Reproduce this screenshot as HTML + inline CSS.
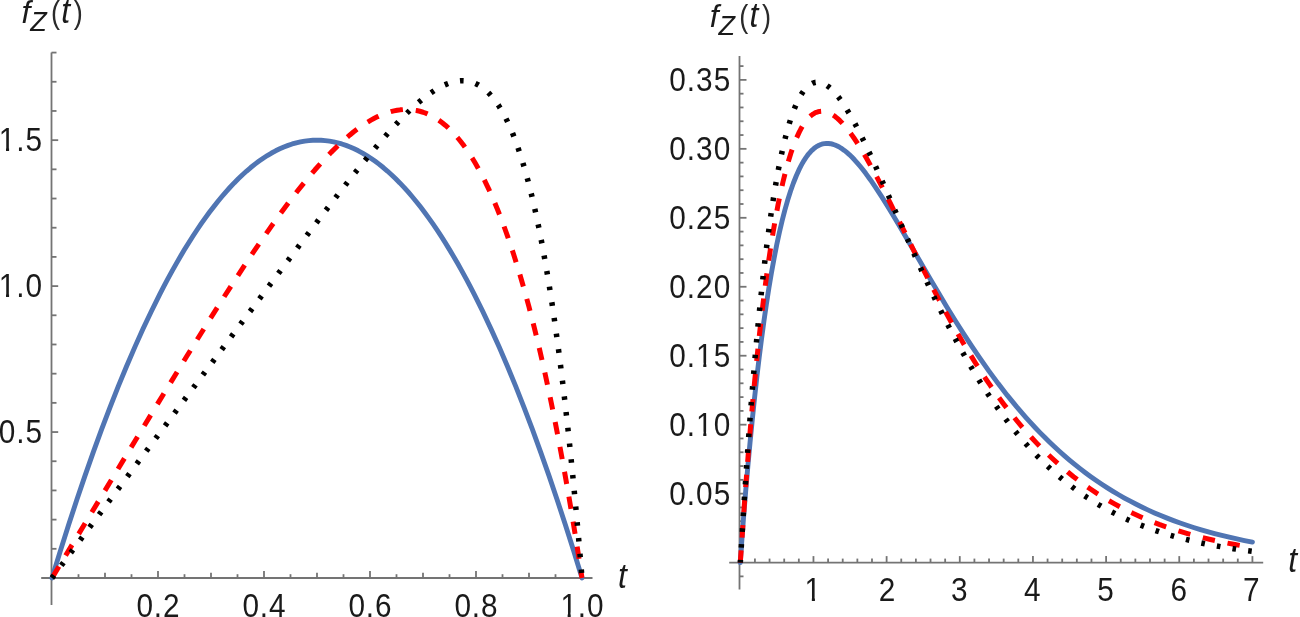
<!DOCTYPE html>
<html><head><meta charset="utf-8"><title>f_Z(t) densities</title><style>
html,body{margin:0;padding:0;background:#fff;}
body{width:1300px;height:617px;overflow:hidden;}
svg{display:block;filter:blur(0.6px);}
text{font-family:"Liberation Sans", sans-serif;fill:#1a1a1a;}
</style></head><body>
<svg width="1300" height="617" viewBox="0 0 1300 617">
<defs><clipPath id="one" clipPathUnits="userSpaceOnUse"><rect x="-12" y="-40" width="24" height="35.80"/><rect x="-1.10" y="-5" width="3.33" height="6"/></clipPath></defs>
<line x1="51.50" y1="52.50" x2="51.50" y2="605.00" stroke="#747474" stroke-width="1.8"/>
<line x1="41.20" y1="578.00" x2="592.50" y2="578.00" stroke="#747474" stroke-width="1.8"/>
<line x1="78.50" y1="578.00" x2="78.50" y2="574.20" stroke="#747474" stroke-width="1.8"/>
<line x1="105.00" y1="578.00" x2="105.00" y2="572.70" stroke="#747474" stroke-width="1.8"/>
<line x1="131.50" y1="578.00" x2="131.50" y2="574.20" stroke="#747474" stroke-width="1.8"/>
<line x1="158.00" y1="578.00" x2="158.00" y2="571.00" stroke="#747474" stroke-width="1.8"/>
<line x1="184.50" y1="578.00" x2="184.50" y2="574.20" stroke="#747474" stroke-width="1.8"/>
<line x1="211.00" y1="578.00" x2="211.00" y2="572.70" stroke="#747474" stroke-width="1.8"/>
<line x1="237.50" y1="578.00" x2="237.50" y2="574.20" stroke="#747474" stroke-width="1.8"/>
<line x1="264.00" y1="578.00" x2="264.00" y2="571.00" stroke="#747474" stroke-width="1.8"/>
<line x1="290.50" y1="578.00" x2="290.50" y2="574.20" stroke="#747474" stroke-width="1.8"/>
<line x1="317.00" y1="578.00" x2="317.00" y2="572.70" stroke="#747474" stroke-width="1.8"/>
<line x1="343.50" y1="578.00" x2="343.50" y2="574.20" stroke="#747474" stroke-width="1.8"/>
<line x1="370.00" y1="578.00" x2="370.00" y2="571.00" stroke="#747474" stroke-width="1.8"/>
<line x1="396.50" y1="578.00" x2="396.50" y2="574.20" stroke="#747474" stroke-width="1.8"/>
<line x1="423.00" y1="578.00" x2="423.00" y2="572.70" stroke="#747474" stroke-width="1.8"/>
<line x1="449.50" y1="578.00" x2="449.50" y2="574.20" stroke="#747474" stroke-width="1.8"/>
<line x1="476.00" y1="578.00" x2="476.00" y2="571.00" stroke="#747474" stroke-width="1.8"/>
<line x1="502.50" y1="578.00" x2="502.50" y2="574.20" stroke="#747474" stroke-width="1.8"/>
<line x1="529.00" y1="578.00" x2="529.00" y2="572.70" stroke="#747474" stroke-width="1.8"/>
<line x1="555.50" y1="578.00" x2="555.50" y2="574.20" stroke="#747474" stroke-width="1.8"/>
<line x1="582.00" y1="578.00" x2="582.00" y2="571.00" stroke="#747474" stroke-width="1.8"/>
<line x1="51.50" y1="548.81" x2="56.50" y2="548.81" stroke="#747474" stroke-width="1.8"/>
<line x1="51.50" y1="519.62" x2="56.50" y2="519.62" stroke="#747474" stroke-width="1.8"/>
<line x1="51.50" y1="490.43" x2="56.50" y2="490.43" stroke="#747474" stroke-width="1.8"/>
<line x1="51.50" y1="461.24" x2="56.50" y2="461.24" stroke="#747474" stroke-width="1.8"/>
<line x1="51.50" y1="432.05" x2="58.20" y2="432.05" stroke="#747474" stroke-width="1.8"/>
<line x1="51.50" y1="402.86" x2="56.50" y2="402.86" stroke="#747474" stroke-width="1.8"/>
<line x1="51.50" y1="373.67" x2="56.50" y2="373.67" stroke="#747474" stroke-width="1.8"/>
<line x1="51.50" y1="344.48" x2="56.50" y2="344.48" stroke="#747474" stroke-width="1.8"/>
<line x1="51.50" y1="315.29" x2="56.50" y2="315.29" stroke="#747474" stroke-width="1.8"/>
<line x1="51.50" y1="286.10" x2="58.20" y2="286.10" stroke="#747474" stroke-width="1.8"/>
<line x1="51.50" y1="256.91" x2="56.50" y2="256.91" stroke="#747474" stroke-width="1.8"/>
<line x1="51.50" y1="227.72" x2="56.50" y2="227.72" stroke="#747474" stroke-width="1.8"/>
<line x1="51.50" y1="198.53" x2="56.50" y2="198.53" stroke="#747474" stroke-width="1.8"/>
<line x1="51.50" y1="169.34" x2="56.50" y2="169.34" stroke="#747474" stroke-width="1.8"/>
<line x1="51.50" y1="140.15" x2="58.20" y2="140.15" stroke="#747474" stroke-width="1.8"/>
<line x1="51.50" y1="110.96" x2="56.50" y2="110.96" stroke="#747474" stroke-width="1.8"/>
<line x1="51.50" y1="81.77" x2="56.50" y2="81.77" stroke="#747474" stroke-width="1.8"/>
<line x1="51.50" y1="52.58" x2="56.50" y2="52.58" stroke="#747474" stroke-width="1.8"/>
<path d="M52.00,578.00 60.35,550.85 68.56,524.98 76.91,499.55 85.12,475.38 93.47,451.68 101.69,429.20 109.90,407.56 118.25,386.44 126.47,366.50 134.81,347.10 143.16,328.57 151.38,311.19 159.59,294.64 163.83,286.43 167.94,278.69 172.05,271.16 176.15,263.84 180.39,256.50 184.50,249.61 188.61,242.93 192.85,236.25 196.96,230.00 201.06,223.96 205.17,218.12 209.41,212.32 213.52,206.92 217.62,201.72 221.73,196.74 225.97,191.81 230.08,187.26 234.19,182.91 238.30,178.77 242.53,174.72 246.64,171.01 250.75,167.52 254.99,164.12 259.10,161.05 263.21,158.19 267.31,155.54 271.55,153.03 275.66,150.81 279.77,148.79 283.88,146.99 288.12,145.35 292.22,143.98 296.33,142.81 300.44,141.86 304.68,141.10 308.78,140.57 312.89,140.26 317.00,140.15 321.11,140.26 325.21,140.57 329.45,141.12 333.56,141.86 337.67,142.81 341.78,143.98 346.02,145.40 350.12,146.99 354.23,148.79 358.34,150.81 362.58,153.10 366.69,155.54 370.80,158.19 374.90,161.05 379.01,164.12 383.25,167.52 387.36,171.01 391.46,174.72 395.70,178.77 399.81,182.91 404.05,187.40 408.16,191.96 412.27,196.74 416.38,201.72 420.62,207.09 424.72,212.50 428.83,218.12 432.94,223.96 437.18,230.20 441.29,236.46 445.39,242.93 449.50,249.61 453.74,256.73 457.85,263.84 461.95,271.16 466.06,278.69 470.30,286.68 474.41,294.64 482.62,311.19 490.97,328.86 499.19,347.10 507.54,366.50 515.75,386.44 524.10,407.56 532.31,429.20 540.66,452.05 548.88,475.38 557.22,499.95 565.44,524.98 573.65,550.85 582.00,578.00" fill="none" stroke="#5075b3" stroke-width="4.9" stroke-linejoin="round" stroke-linecap="round"/>
<path d="M52.00,578.00 122.89,460.91 158.00,403.14 186.75,356.28 210.47,318.26 222.26,299.68 233.26,282.61 243.73,266.64 253.53,251.98 262.94,238.22 271.95,225.36 280.69,213.24 289.04,202.01 298.05,190.34 306.66,179.66 315.01,169.79 323.10,160.74 331.04,152.37 338.73,144.83 342.44,141.39 346.15,138.10 349.86,134.95 353.44,132.06 357.01,129.32 360.59,126.72 364.04,124.38 367.48,122.18 370.93,120.14 374.37,118.26 377.69,116.61 381.00,115.12 384.31,113.79 387.49,112.68 390.80,111.69 393.98,110.90 397.16,110.29 400.21,109.86 403.39,109.59 406.44,109.51 409.88,109.62 413.19,109.94 416.51,110.48 419.82,111.24 423.13,112.23 426.31,113.40 429.62,114.86 432.81,116.49 435.99,118.36 439.03,120.37 442.21,122.71 445.26,125.19 448.31,127.90 451.36,130.86 454.40,134.07 457.45,137.53 460.50,141.24 463.41,145.05 466.33,149.10 469.24,153.41 472.16,157.97 475.07,162.80 477.99,167.89 480.77,173.02 483.55,178.39 486.33,184.03 489.12,189.94 491.90,196.11 494.68,202.56 497.33,208.97 500.12,215.97 502.77,222.91 508.06,237.61 513.37,253.43 518.66,270.40 523.83,288.09 529.00,306.96 534.03,326.52 539.07,347.26 543.97,368.64 548.88,391.21 553.78,415.02 558.55,439.41 563.32,465.03 568.09,491.93 572.73,519.34 577.36,548.02 582.00,578.00" fill="none" stroke="#ff0000" stroke-width="5.0" stroke-linejoin="round" stroke-linecap="butt" stroke-dasharray="12.4 12.89" stroke-dashoffset="-1.0"/>
<path d="M52.00,578.00 242.53,321.51 298.05,247.07 320.98,216.69 339.66,192.31 355.69,171.87 369.74,154.52 377.82,144.86 385.50,135.95 392.66,127.96 399.41,120.73 405.91,114.11 412.00,108.25 417.83,103.00 423.53,98.26 428.96,94.14 434.26,90.55 439.30,87.57 441.81,86.25 444.20,85.12 446.59,84.10 448.97,83.21 451.36,82.45 453.61,81.85 455.86,81.38 457.98,81.06 460.23,80.85 462.35,80.78 465.00,80.89 467.65,81.21 470.30,81.76 472.82,82.51 475.34,83.49 477.86,84.71 480.24,86.10 482.62,87.72 485.01,89.59 487.26,91.59 489.65,93.97 491.90,96.48 494.15,99.25 496.27,102.10 498.53,105.41 500.65,108.79 502.77,112.44 504.89,116.38 507.00,120.61 508.99,124.84 510.98,129.36 512.97,134.15 514.96,139.25 516.94,144.65 520.79,156.00 524.50,168.16 528.20,181.57 531.78,195.77 535.36,211.29 538.81,227.55 542.25,245.20 545.69,264.29 549.01,284.10 552.19,304.53 555.37,326.42 558.55,349.83 561.60,373.78 564.64,399.28 567.69,426.41 570.61,453.95 573.52,483.13 576.44,514.01 579.22,545.16 582.00,578.00" fill="none" stroke="#000000" stroke-width="5.5" stroke-linejoin="round" stroke-linecap="butt" stroke-dasharray="3.6 12.22" stroke-dashoffset="0.2"/>
<line x1="739.50" y1="56.10" x2="739.50" y2="589.60" stroke="#747474" stroke-width="1.8"/>
<line x1="729.20" y1="562.60" x2="1263.20" y2="562.60" stroke="#747474" stroke-width="1.8"/>
<line x1="754.93" y1="562.60" x2="754.93" y2="558.60" stroke="#747474" stroke-width="1.8"/>
<line x1="769.56" y1="562.60" x2="769.56" y2="558.60" stroke="#747474" stroke-width="1.8"/>
<line x1="784.20" y1="562.60" x2="784.20" y2="558.60" stroke="#747474" stroke-width="1.8"/>
<line x1="798.83" y1="562.60" x2="798.83" y2="558.60" stroke="#747474" stroke-width="1.8"/>
<line x1="813.46" y1="562.60" x2="813.46" y2="556.10" stroke="#747474" stroke-width="1.8"/>
<line x1="828.09" y1="562.60" x2="828.09" y2="558.60" stroke="#747474" stroke-width="1.8"/>
<line x1="842.72" y1="562.60" x2="842.72" y2="558.60" stroke="#747474" stroke-width="1.8"/>
<line x1="857.36" y1="562.60" x2="857.36" y2="558.60" stroke="#747474" stroke-width="1.8"/>
<line x1="871.99" y1="562.60" x2="871.99" y2="558.60" stroke="#747474" stroke-width="1.8"/>
<line x1="886.62" y1="562.60" x2="886.62" y2="556.10" stroke="#747474" stroke-width="1.8"/>
<line x1="901.25" y1="562.60" x2="901.25" y2="558.60" stroke="#747474" stroke-width="1.8"/>
<line x1="915.88" y1="562.60" x2="915.88" y2="558.60" stroke="#747474" stroke-width="1.8"/>
<line x1="930.52" y1="562.60" x2="930.52" y2="558.60" stroke="#747474" stroke-width="1.8"/>
<line x1="945.15" y1="562.60" x2="945.15" y2="558.60" stroke="#747474" stroke-width="1.8"/>
<line x1="959.78" y1="562.60" x2="959.78" y2="556.10" stroke="#747474" stroke-width="1.8"/>
<line x1="974.41" y1="562.60" x2="974.41" y2="558.60" stroke="#747474" stroke-width="1.8"/>
<line x1="989.04" y1="562.60" x2="989.04" y2="558.60" stroke="#747474" stroke-width="1.8"/>
<line x1="1003.68" y1="562.60" x2="1003.68" y2="558.60" stroke="#747474" stroke-width="1.8"/>
<line x1="1018.31" y1="562.60" x2="1018.31" y2="558.60" stroke="#747474" stroke-width="1.8"/>
<line x1="1032.94" y1="562.60" x2="1032.94" y2="556.10" stroke="#747474" stroke-width="1.8"/>
<line x1="1047.57" y1="562.60" x2="1047.57" y2="558.60" stroke="#747474" stroke-width="1.8"/>
<line x1="1062.20" y1="562.60" x2="1062.20" y2="558.60" stroke="#747474" stroke-width="1.8"/>
<line x1="1076.84" y1="562.60" x2="1076.84" y2="558.60" stroke="#747474" stroke-width="1.8"/>
<line x1="1091.47" y1="562.60" x2="1091.47" y2="558.60" stroke="#747474" stroke-width="1.8"/>
<line x1="1106.10" y1="562.60" x2="1106.10" y2="556.10" stroke="#747474" stroke-width="1.8"/>
<line x1="1120.73" y1="562.60" x2="1120.73" y2="558.60" stroke="#747474" stroke-width="1.8"/>
<line x1="1135.36" y1="562.60" x2="1135.36" y2="558.60" stroke="#747474" stroke-width="1.8"/>
<line x1="1150.00" y1="562.60" x2="1150.00" y2="558.60" stroke="#747474" stroke-width="1.8"/>
<line x1="1164.63" y1="562.60" x2="1164.63" y2="558.60" stroke="#747474" stroke-width="1.8"/>
<line x1="1179.26" y1="562.60" x2="1179.26" y2="556.10" stroke="#747474" stroke-width="1.8"/>
<line x1="1193.89" y1="562.60" x2="1193.89" y2="558.60" stroke="#747474" stroke-width="1.8"/>
<line x1="1208.52" y1="562.60" x2="1208.52" y2="558.60" stroke="#747474" stroke-width="1.8"/>
<line x1="1223.16" y1="562.60" x2="1223.16" y2="558.60" stroke="#747474" stroke-width="1.8"/>
<line x1="1237.79" y1="562.60" x2="1237.79" y2="558.60" stroke="#747474" stroke-width="1.8"/>
<line x1="1252.42" y1="562.60" x2="1252.42" y2="556.10" stroke="#747474" stroke-width="1.8"/>
<line x1="739.50" y1="576.39" x2="743.50" y2="576.39" stroke="#747474" stroke-width="1.8"/>
<line x1="739.50" y1="548.81" x2="743.50" y2="548.81" stroke="#747474" stroke-width="1.8"/>
<line x1="739.50" y1="535.02" x2="743.50" y2="535.02" stroke="#747474" stroke-width="1.8"/>
<line x1="739.50" y1="521.22" x2="743.50" y2="521.22" stroke="#747474" stroke-width="1.8"/>
<line x1="739.50" y1="507.43" x2="743.50" y2="507.43" stroke="#747474" stroke-width="1.8"/>
<line x1="739.50" y1="493.64" x2="746.50" y2="493.64" stroke="#747474" stroke-width="1.8"/>
<line x1="739.50" y1="479.85" x2="743.50" y2="479.85" stroke="#747474" stroke-width="1.8"/>
<line x1="739.50" y1="466.06" x2="743.50" y2="466.06" stroke="#747474" stroke-width="1.8"/>
<line x1="739.50" y1="452.26" x2="743.50" y2="452.26" stroke="#747474" stroke-width="1.8"/>
<line x1="739.50" y1="438.47" x2="743.50" y2="438.47" stroke="#747474" stroke-width="1.8"/>
<line x1="739.50" y1="424.68" x2="746.50" y2="424.68" stroke="#747474" stroke-width="1.8"/>
<line x1="739.50" y1="410.89" x2="743.50" y2="410.89" stroke="#747474" stroke-width="1.8"/>
<line x1="739.50" y1="397.10" x2="743.50" y2="397.10" stroke="#747474" stroke-width="1.8"/>
<line x1="739.50" y1="383.30" x2="743.50" y2="383.30" stroke="#747474" stroke-width="1.8"/>
<line x1="739.50" y1="369.51" x2="743.50" y2="369.51" stroke="#747474" stroke-width="1.8"/>
<line x1="739.50" y1="355.72" x2="746.50" y2="355.72" stroke="#747474" stroke-width="1.8"/>
<line x1="739.50" y1="341.93" x2="743.50" y2="341.93" stroke="#747474" stroke-width="1.8"/>
<line x1="739.50" y1="328.14" x2="743.50" y2="328.14" stroke="#747474" stroke-width="1.8"/>
<line x1="739.50" y1="314.34" x2="743.50" y2="314.34" stroke="#747474" stroke-width="1.8"/>
<line x1="739.50" y1="300.55" x2="743.50" y2="300.55" stroke="#747474" stroke-width="1.8"/>
<line x1="739.50" y1="286.76" x2="746.50" y2="286.76" stroke="#747474" stroke-width="1.8"/>
<line x1="739.50" y1="272.97" x2="743.50" y2="272.97" stroke="#747474" stroke-width="1.8"/>
<line x1="739.50" y1="259.18" x2="743.50" y2="259.18" stroke="#747474" stroke-width="1.8"/>
<line x1="739.50" y1="245.38" x2="743.50" y2="245.38" stroke="#747474" stroke-width="1.8"/>
<line x1="739.50" y1="231.59" x2="743.50" y2="231.59" stroke="#747474" stroke-width="1.8"/>
<line x1="739.50" y1="217.80" x2="746.50" y2="217.80" stroke="#747474" stroke-width="1.8"/>
<line x1="739.50" y1="204.01" x2="743.50" y2="204.01" stroke="#747474" stroke-width="1.8"/>
<line x1="739.50" y1="190.22" x2="743.50" y2="190.22" stroke="#747474" stroke-width="1.8"/>
<line x1="739.50" y1="176.42" x2="743.50" y2="176.42" stroke="#747474" stroke-width="1.8"/>
<line x1="739.50" y1="162.63" x2="743.50" y2="162.63" stroke="#747474" stroke-width="1.8"/>
<line x1="739.50" y1="148.84" x2="746.50" y2="148.84" stroke="#747474" stroke-width="1.8"/>
<line x1="739.50" y1="135.05" x2="743.50" y2="135.05" stroke="#747474" stroke-width="1.8"/>
<line x1="739.50" y1="121.26" x2="743.50" y2="121.26" stroke="#747474" stroke-width="1.8"/>
<line x1="739.50" y1="107.46" x2="743.50" y2="107.46" stroke="#747474" stroke-width="1.8"/>
<line x1="739.50" y1="93.67" x2="743.50" y2="93.67" stroke="#747474" stroke-width="1.8"/>
<line x1="739.50" y1="79.88" x2="746.50" y2="79.88" stroke="#747474" stroke-width="1.8"/>
<line x1="739.50" y1="66.09" x2="743.50" y2="66.09" stroke="#747474" stroke-width="1.8"/>
<path d="M740.30,562.60 741.69,542.31 743.59,517.12 745.64,491.82 747.84,466.43 750.03,442.59 752.23,420.18 754.49,398.40 756.83,377.31 759.18,357.53 761.52,339.00 763.93,321.13 766.42,303.95 768.91,287.98 771.47,272.71 774.10,258.20 776.73,244.83 779.37,232.53 782.07,220.96 784.85,210.14 787.63,200.34 790.49,191.28 793.41,182.99 796.41,175.47 799.41,168.89 800.95,165.86 802.56,162.93 804.10,160.35 805.71,157.88 807.31,155.63 808.92,153.59 810.53,151.76 812.22,150.06 813.90,148.57 815.58,147.29 817.34,146.16 819.09,145.23 820.85,144.50 822.68,143.95 824.51,143.59 826.34,143.42 828.46,143.46 830.58,143.73 832.77,144.24 835.04,145.01 837.31,146.00 839.58,147.21 841.92,148.68 844.33,150.40 846.82,152.40 849.31,154.60 851.87,157.06 854.50,159.79 857.21,162.79 859.92,165.98 862.77,169.52 865.70,173.33 870.52,179.97 875.57,187.32 880.99,195.60 886.84,204.92 892.77,214.66 899.35,225.74 930.95,280.21 939.15,294.11 946.68,306.66 955.32,320.70 963.66,333.87 971.71,346.18 979.68,357.96 988.97,371.13 998.19,383.60 1007.33,395.38 1016.55,406.65 1025.77,417.31 1030.38,422.42 1035.06,427.46 1039.74,432.35 1044.43,437.09 1049.18,441.76 1053.94,446.28 1059.06,450.99 1064.25,455.60 1069.45,460.04 1074.71,464.39 1080.06,468.62 1085.40,472.70 1090.81,476.67 1096.22,480.49 1101.78,484.25 1107.34,487.86 1112.98,491.36 1118.68,494.75 1124.46,498.04 1130.32,501.22 1136.24,504.29 1142.24,507.26 1148.31,510.12 1154.53,512.91 1160.75,515.56 1167.12,518.14 1173.55,520.61 1180.14,523.00 1186.80,525.29 1193.53,527.48 1200.40,529.59 1207.43,531.62 1214.60,533.58 1221.84,535.43 1229.23,537.20 1236.84,538.91 1244.52,540.53 1252.42,542.08" fill="none" stroke="#5075b3" stroke-width="4.9" stroke-linejoin="round" stroke-linecap="round"/>
<path d="M740.30,562.60 744.32,504.94 746.37,477.70 748.42,451.84 750.47,427.32 752.59,403.29 754.71,380.59 756.91,358.45 759.10,337.62 761.37,317.42 763.64,298.50 765.91,280.81 768.25,263.78 770.59,247.94 773.00,232.80 775.42,218.82 777.90,205.56 780.39,193.41 782.95,182.01 785.59,171.39 788.22,161.82 790.93,153.04 793.71,145.06 796.49,138.07 799.34,131.87 800.80,129.06 802.27,126.48 803.73,124.13 805.27,121.90 806.80,119.91 808.34,118.14 809.88,116.59 811.48,115.20 813.09,114.03 814.70,113.07 816.31,112.32 818.00,111.76 819.68,111.40 821.43,111.24 823.34,111.31 825.31,111.62 827.29,112.18 829.26,112.97 831.31,114.02 833.36,115.29 835.48,116.82 837.68,118.64 839.87,120.67 842.14,122.98 844.41,125.50 846.75,128.29 849.16,131.37 851.58,134.64 854.14,138.30 856.70,142.13 861.82,150.28 867.23,159.49 873.09,170.02 879.52,182.12 884.94,192.61 891.16,204.92 913.03,249.00 922.03,266.95 930.88,284.26 939.08,299.88 946.25,313.17 953.27,325.80 960.15,337.79 966.88,349.13 976.09,364.02 980.70,371.18 985.24,378.03 989.78,384.70 994.38,391.29 998.99,397.69 1003.60,403.90 1008.21,409.92 1012.82,415.75 1017.50,421.49 1022.19,427.04 1026.94,432.49 1031.70,437.76 1036.45,442.84 1041.28,447.82 1046.55,453.04 1051.82,458.06 1057.16,462.94 1062.57,467.69 1068.06,472.29 1073.54,476.69 1079.10,480.95 1084.74,485.08 1090.44,489.06 1096.22,492.91 1102.08,496.62 1108.08,500.23 1114.07,503.65 1120.22,506.99 1126.44,510.18 1132.80,513.27 1139.24,516.22 1145.75,519.04 1152.41,521.75 1159.14,524.34 1166.02,526.81 1173.04,529.19 1180.21,531.46 1187.53,533.62 1194.99,535.68 1202.60,537.64 1210.43,539.51 1218.40,541.28 1226.59,542.96 1235.01,544.55 1243.57,546.04 1252.42,547.46" fill="none" stroke="#ff0000" stroke-width="5.0" stroke-linejoin="round" stroke-linecap="butt" stroke-dasharray="12.4 12.896" stroke-dashoffset="0.2"/>
<path d="M740.30,562.60 744.25,499.97 748.13,444.03 750.10,417.65 752.08,392.65 754.13,368.14 756.18,345.01 758.22,323.22 760.35,301.99 762.47,282.09 764.66,262.83 766.86,244.86 769.13,227.60 771.39,211.61 773.73,196.36 776.08,182.33 778.49,169.09 780.90,157.02 783.39,145.76 785.88,135.62 788.44,126.30 791.07,117.81 793.71,110.40 796.41,103.81 797.80,100.82 799.19,98.09 800.58,95.60 802.05,93.23 803.44,91.22 804.90,89.35 806.36,87.71 807.83,86.30 809.36,85.06 810.90,84.05 812.44,83.27 813.97,82.71 815.58,82.34 817.19,82.20 818.95,82.28 820.78,82.62 822.60,83.21 824.43,84.04 826.34,85.14 828.24,86.47 830.14,88.03 832.12,89.86 834.16,91.98 836.21,94.32 838.33,96.95 840.46,99.79 842.65,102.92 844.92,106.36 849.60,114.04 854.50,122.81 859.70,132.78 865.26,144.09 871.40,157.17 876.60,168.60 882.52,181.91 903.59,230.14 912.30,249.85 920.93,268.99 928.98,286.35 936.15,301.35 943.17,315.58 950.05,329.03 956.85,341.85 961.46,350.25 966.00,358.30 970.61,366.24 975.14,373.83 979.68,381.20 984.29,388.45 988.82,395.36 993.43,402.16 998.04,408.73 1002.72,415.18 1007.41,421.40 1012.09,427.41 1016.84,433.28 1021.60,438.94 1026.43,444.46 1031.26,449.77 1036.52,455.32 1041.87,460.71 1047.28,465.92 1052.77,470.97 1058.33,475.83 1063.89,480.47 1069.59,484.99 1075.37,489.34 1081.23,493.52 1087.15,497.52 1093.15,501.36 1099.30,505.07 1105.51,508.62 1111.81,511.99 1118.24,515.25 1124.83,518.37 1131.49,521.33 1138.29,524.16 1145.17,526.84 1152.26,529.42 1159.51,531.87 1166.90,534.18 1174.50,536.40 1182.26,538.49 1190.23,540.47 1198.35,542.32 1206.69,544.07 1215.33,545.73 1224.18,547.28 1233.33,548.74 1242.69,550.09 1252.42,551.36" fill="none" stroke="#000000" stroke-width="5.5" stroke-linejoin="round" stroke-linecap="butt" stroke-dasharray="3.6 12.224" stroke-dashoffset="0.84"/>
<g transform="translate(0,443.25) scale(1,1.045) translate(0,-443.25)">
<text transform="translate(7.01,443.25) scale(0.93,1)" text-anchor="middle" font-size="32">0</text>
<text transform="translate(20.36,443.25) scale(0.93,1)" text-anchor="middle" font-size="32">.</text>
<text transform="translate(33.70,443.25) scale(0.93,1)" text-anchor="middle" font-size="32">5</text>
</g>
<g transform="translate(0,297.30) scale(1,1.045) translate(0,-297.30)">
<text transform="translate(7.01,297.30) scale(0.93,1)" text-anchor="middle" font-size="32" clip-path="url(#one)">1</text>
<text transform="translate(20.36,297.30) scale(0.93,1)" text-anchor="middle" font-size="32">.</text>
<text transform="translate(33.70,297.30) scale(0.93,1)" text-anchor="middle" font-size="32">0</text>
</g>
<g transform="translate(0,151.35) scale(1,1.045) translate(0,-151.35)">
<text transform="translate(7.01,151.35) scale(0.93,1)" text-anchor="middle" font-size="32" clip-path="url(#one)">1</text>
<text transform="translate(20.36,151.35) scale(0.93,1)" text-anchor="middle" font-size="32">.</text>
<text transform="translate(33.70,151.35) scale(0.93,1)" text-anchor="middle" font-size="32">5</text>
</g>
<g transform="translate(0,616.80) scale(1,1.045) translate(0,-616.80)">
<text transform="translate(144.66,616.80) scale(0.93,1)" text-anchor="middle" font-size="32">0</text>
<text transform="translate(158.00,616.80) scale(0.93,1)" text-anchor="middle" font-size="32">.</text>
<text transform="translate(171.34,616.80) scale(0.93,1)" text-anchor="middle" font-size="32">2</text>
</g>
<g transform="translate(0,616.80) scale(1,1.045) translate(0,-616.80)">
<text transform="translate(250.66,616.80) scale(0.93,1)" text-anchor="middle" font-size="32">0</text>
<text transform="translate(264.00,616.80) scale(0.93,1)" text-anchor="middle" font-size="32">.</text>
<text transform="translate(277.34,616.80) scale(0.93,1)" text-anchor="middle" font-size="32">4</text>
</g>
<g transform="translate(0,616.80) scale(1,1.045) translate(0,-616.80)">
<text transform="translate(356.66,616.80) scale(0.93,1)" text-anchor="middle" font-size="32">0</text>
<text transform="translate(370.00,616.80) scale(0.93,1)" text-anchor="middle" font-size="32">.</text>
<text transform="translate(383.34,616.80) scale(0.93,1)" text-anchor="middle" font-size="32">6</text>
</g>
<g transform="translate(0,616.80) scale(1,1.045) translate(0,-616.80)">
<text transform="translate(462.66,616.80) scale(0.93,1)" text-anchor="middle" font-size="32">0</text>
<text transform="translate(476.00,616.80) scale(0.93,1)" text-anchor="middle" font-size="32">.</text>
<text transform="translate(489.34,616.80) scale(0.93,1)" text-anchor="middle" font-size="32">8</text>
</g>
<g transform="translate(0,616.80) scale(1,1.045) translate(0,-616.80)">
<text transform="translate(568.66,616.80) scale(0.93,1)" text-anchor="middle" font-size="32" clip-path="url(#one)">1</text>
<text transform="translate(582.00,616.80) scale(0.93,1)" text-anchor="middle" font-size="32">.</text>
<text transform="translate(595.34,616.80) scale(0.93,1)" text-anchor="middle" font-size="32">0</text>
</g>
<g transform="translate(0,505.09) scale(1,1.045) translate(0,-505.09)">
<text transform="translate(677.62,505.09) scale(0.93,1)" text-anchor="middle" font-size="32">0</text>
<text transform="translate(690.96,505.09) scale(0.93,1)" text-anchor="middle" font-size="32">.</text>
<text transform="translate(704.30,505.09) scale(0.93,1)" text-anchor="middle" font-size="32">0</text>
<text transform="translate(722.10,505.09) scale(0.93,1)" text-anchor="middle" font-size="32">5</text>
</g>
<g transform="translate(0,436.13) scale(1,1.045) translate(0,-436.13)">
<text transform="translate(677.62,436.13) scale(0.93,1)" text-anchor="middle" font-size="32">0</text>
<text transform="translate(690.96,436.13) scale(0.93,1)" text-anchor="middle" font-size="32">.</text>
<text transform="translate(704.30,436.13) scale(0.93,1)" text-anchor="middle" font-size="32" clip-path="url(#one)">1</text>
<text transform="translate(722.10,436.13) scale(0.93,1)" text-anchor="middle" font-size="32">0</text>
</g>
<g transform="translate(0,367.17) scale(1,1.045) translate(0,-367.17)">
<text transform="translate(677.62,367.17) scale(0.93,1)" text-anchor="middle" font-size="32">0</text>
<text transform="translate(690.96,367.17) scale(0.93,1)" text-anchor="middle" font-size="32">.</text>
<text transform="translate(704.30,367.17) scale(0.93,1)" text-anchor="middle" font-size="32" clip-path="url(#one)">1</text>
<text transform="translate(722.10,367.17) scale(0.93,1)" text-anchor="middle" font-size="32">5</text>
</g>
<g transform="translate(0,298.21) scale(1,1.045) translate(0,-298.21)">
<text transform="translate(677.62,298.21) scale(0.93,1)" text-anchor="middle" font-size="32">0</text>
<text transform="translate(690.96,298.21) scale(0.93,1)" text-anchor="middle" font-size="32">.</text>
<text transform="translate(704.30,298.21) scale(0.93,1)" text-anchor="middle" font-size="32">2</text>
<text transform="translate(722.10,298.21) scale(0.93,1)" text-anchor="middle" font-size="32">0</text>
</g>
<g transform="translate(0,229.25) scale(1,1.045) translate(0,-229.25)">
<text transform="translate(677.62,229.25) scale(0.93,1)" text-anchor="middle" font-size="32">0</text>
<text transform="translate(690.96,229.25) scale(0.93,1)" text-anchor="middle" font-size="32">.</text>
<text transform="translate(704.30,229.25) scale(0.93,1)" text-anchor="middle" font-size="32">2</text>
<text transform="translate(722.10,229.25) scale(0.93,1)" text-anchor="middle" font-size="32">5</text>
</g>
<g transform="translate(0,160.29) scale(1,1.045) translate(0,-160.29)">
<text transform="translate(677.62,160.29) scale(0.93,1)" text-anchor="middle" font-size="32">0</text>
<text transform="translate(690.96,160.29) scale(0.93,1)" text-anchor="middle" font-size="32">.</text>
<text transform="translate(704.30,160.29) scale(0.93,1)" text-anchor="middle" font-size="32">3</text>
<text transform="translate(722.10,160.29) scale(0.93,1)" text-anchor="middle" font-size="32">0</text>
</g>
<g transform="translate(0,91.33) scale(1,1.045) translate(0,-91.33)">
<text transform="translate(677.62,91.33) scale(0.93,1)" text-anchor="middle" font-size="32">0</text>
<text transform="translate(690.96,91.33) scale(0.93,1)" text-anchor="middle" font-size="32">.</text>
<text transform="translate(704.30,91.33) scale(0.93,1)" text-anchor="middle" font-size="32">3</text>
<text transform="translate(722.10,91.33) scale(0.93,1)" text-anchor="middle" font-size="32">5</text>
</g>
<g transform="translate(0,601.10) scale(1,1.045) translate(0,-601.10)">
<text transform="translate(812.86,601.10) scale(0.93,1)" text-anchor="middle" font-size="32" clip-path="url(#one)">1</text>
</g>
<g transform="translate(0,601.10) scale(1,1.045) translate(0,-601.10)">
<text transform="translate(887.02,601.10) scale(0.93,1)" text-anchor="middle" font-size="32">2</text>
</g>
<g transform="translate(0,601.10) scale(1,1.045) translate(0,-601.10)">
<text transform="translate(959.18,601.10) scale(0.93,1)" text-anchor="middle" font-size="32">3</text>
</g>
<g transform="translate(0,601.10) scale(1,1.045) translate(0,-601.10)">
<text transform="translate(1032.34,601.10) scale(0.93,1)" text-anchor="middle" font-size="32">4</text>
</g>
<g transform="translate(0,601.10) scale(1,1.045) translate(0,-601.10)">
<text transform="translate(1105.50,601.10) scale(0.93,1)" text-anchor="middle" font-size="32">5</text>
</g>
<g transform="translate(0,601.10) scale(1,1.045) translate(0,-601.10)">
<text transform="translate(1178.66,601.10) scale(0.93,1)" text-anchor="middle" font-size="32">6</text>
</g>
<g transform="translate(0,601.10) scale(1,1.045) translate(0,-601.10)">
<text transform="translate(1251.22,601.10) scale(0.93,1)" text-anchor="middle" font-size="32">7</text>
</g>
<text x="709.70" y="26.50" font-size="32" font-style="italic">f</text>
<text x="718.50" y="34.80" font-size="27" font-style="italic">Z</text>
<text transform="translate(739.30,26.50) scale(0.85,1)" font-size="32" style="fill:#2a2a2a">(</text>
<text transform="translate(749.50,26.80) scale(1,1.07)" font-size="32" font-style="italic">t</text>
<text transform="translate(762.05,26.50) scale(0.85,1)" font-size="32" style="fill:#2a2a2a">)</text>
<text x="21.50" y="23.10" font-size="32" font-style="italic">f</text>
<text x="30.30" y="31.40" font-size="27" font-style="italic">Z</text>
<text transform="translate(51.10,23.10) scale(0.85,1)" font-size="32" style="fill:#2a2a2a">(</text>
<text transform="translate(61.30,23.40) scale(1,1.07)" font-size="32" font-style="italic">t</text>
<text transform="translate(73.85,23.10) scale(0.85,1)" font-size="32" style="fill:#2a2a2a">)</text>
<text transform="translate(618.0,588.0) scale(1,1.12)" font-size="32" font-style="italic">t</text>
<text transform="translate(1288.2,572.2) scale(1,1.12)" font-size="32" font-style="italic">t</text>
</svg>
</body></html>
